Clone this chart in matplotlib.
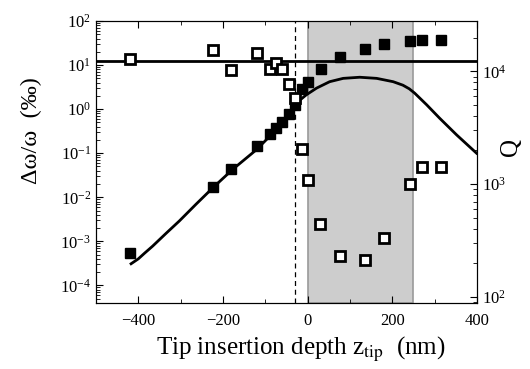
import numpy as np
import matplotlib.pyplot as plt
from matplotlib.ticker import LogLocator, NullFormatter, MultipleLocator

plt.rcParams['font.family'] = ['Liberation Serif', 'DejaVu Serif']
plt.rcParams['mathtext.fontset'] = 'stix'

# frequency shift (left axis), filled squares
z_shift = [-420, -224, -180, -119, -90, -74, -60, -44, -30, -14, 0, 31, 76, 136, 181, 241, 271, 316]
shift = [5.5e-4, 0.0173, 0.043, 0.144, 0.27, 0.37, 0.52, 0.78, 1.26, 2.85, 4.2, 8.1, 15.6, 23.3, 29.7, 35.9, 36.9, 37.0]

# quality factor (right axis), open squares
z_q = [-420, -224, -180, -119, -90, -74, -60, -44, -30, -14, 0, 30, 76, 136, 181, 241, 271, 316]
q = [1.30e4, 1.54e4, 1.04e4, 1.47e4, 1.06e4, 1.19e4, 1.06e4, 7.8e3, 5.8e3, 2.06e3,
     1.1e3, 446, 229, 213, 331, 1.0e3, 1.42e3, 1.42e3]

# model curve for the shift
z_fit = [-417, -400, -385, -366, -335, -303, -264, -224, -177, -121, -90, -60, -43, -27, -3,
         21, 52, 84, 123, 163, 202, 225, 240, 253, 281, 312, 352, 399]
shift_fit = [3.1e-4, 4.0e-4, 5.4e-4, 7.8e-4, 1.5e-3, 2.9e-3, 6.9e-3, 0.0164, 0.043, 0.12,
             0.24, 0.48, 0.82, 1.37, 2.12, 3.0, 4.2, 5.0, 5.3, 5.0, 4.2, 3.5, 2.9, 2.3, 1.26,
             0.62, 0.26, 0.10]

q_level = 1.25e4
z_dash = -29
region = (0, 250)

fig = plt.figure(figsize=(5.3, 3.69), dpi=100)
ax = fig.add_axes([0.181, 0.179, 0.719, 0.764])
ax2 = ax.twinx()

ax.axvspan(region[0], region[1], facecolor='#cdcdcd', edgecolor='#9a9a9a', lw=1.2, zorder=0)
ax.axvline(z_dash, color='black', lw=0.9, ls=(0, (4, 3)), zorder=1)
ax.plot(z_fit, shift_fit, color='black', lw=2, zorder=2)
ax.plot(z_shift, shift, 's', color='black', ms=7, zorder=3)

ax2.axhline(q_level, color='black', lw=2)
ax2.plot(z_q, q, 's', mfc='white', mec='black', mew=2, ms=7)

ax.set_xlim(-500, 400)
ax.set_yscale('log')
ax.set_ylim(4e-5, 100)
ax2.set_yscale('log')
ax2.set_ylim(88.5, 2.8e4)

ax.xaxis.set_major_locator(MultipleLocator(200))
ax.xaxis.set_minor_locator(MultipleLocator(100))
ax.yaxis.set_major_locator(LogLocator(base=10, numticks=20))
ax.yaxis.set_minor_locator(LogLocator(base=10, subs=np.arange(2, 10), numticks=20))
ax.yaxis.set_minor_formatter(NullFormatter())
ax2.yaxis.set_minor_locator(LogLocator(base=10, subs=np.arange(2, 10), numticks=20))
ax2.yaxis.set_minor_formatter(NullFormatter())

ax.tick_params(which='both', direction='in', labelsize=12, top=True)
ax.tick_params(which='major', length=5)
ax.tick_params(which='minor', length=3)
ax.tick_params(axis='x', pad=7)
ax2.tick_params(which='both', direction='in', labelsize=12)
ax2.tick_params(which='major', length=5)
ax2.tick_params(which='minor', length=3)

ax.set_xlabel(r'Tip insertion depth z$_{\mathrm{tip}}$  (nm)', fontsize=18)
ax.xaxis.set_label_coords(0.538, -0.115)
ax.set_ylabel('Δω/ω  (‰)', fontsize=17.5)
ax.yaxis.set_label_coords(-0.142, 0.613)
ax2.set_ylabel('Q', fontsize=18)
ax2.yaxis.set_label_coords(1.06, 0.553)

fig.savefig('out.png', dpi=100)
